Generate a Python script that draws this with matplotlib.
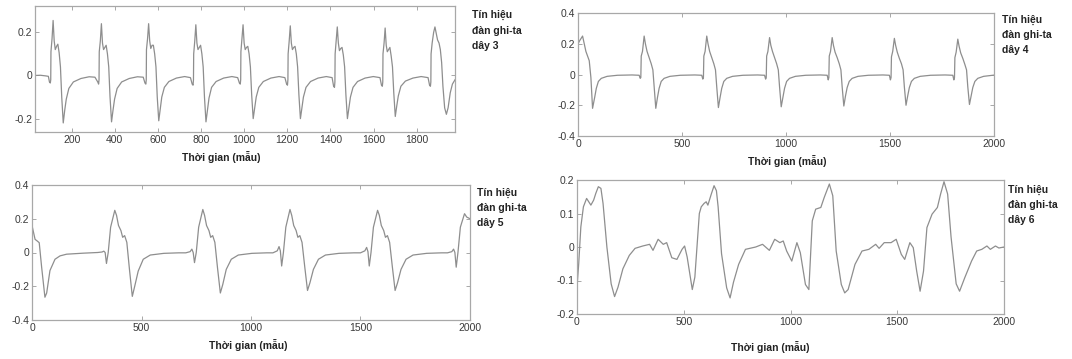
import matplotlib
matplotlib.use("Agg")
import matplotlib.pyplot as plt

plt.rcParams['font.family'] = ['Liberation Sans', 'DejaVu Sans']

W, H = 1072, 359

# --- signal "dây 3" (top left) ---
day3_t = [30, 55, 80, 92,
          97, 101, 103, 104, 109, 114, 119, 124, 130, 136, 142, 148, 154, 161, 168, 175, 187, 208, 243, 281, 308,
          321, 325, 327, 328, 333, 338, 343, 348, 354, 360, 366, 372, 378, 385, 392, 399, 411, 432, 467, 505, 532,
          540, 544, 546, 547, 552, 557, 562, 567, 573, 579, 585, 591, 597, 604, 611, 618, 630, 651, 686, 724, 751,
          759, 763, 765, 766, 771, 776, 781, 786, 792, 798, 804, 810, 816, 823, 830, 837, 849, 870, 905, 943, 970,
          978, 982, 984, 985, 990, 995, 1000, 1005, 1011, 1017, 1023, 1029, 1035, 1042, 1049, 1056, 1068, 1089, 1124, 1162, 1189,
          1197, 1201, 1203, 1204, 1209, 1214, 1219, 1224, 1230, 1236, 1242, 1248, 1254, 1261, 1268, 1275, 1287, 1308, 1343, 1381, 1408,
          1415, 1419, 1421, 1422, 1427, 1432, 1437, 1442, 1448, 1454, 1460, 1466, 1472, 1479, 1486, 1493, 1505, 1526, 1561, 1599, 1630,
          1637, 1641, 1643, 1644, 1649, 1654, 1659, 1664, 1670, 1676, 1682, 1688, 1694, 1701, 1708, 1715, 1727, 1748, 1783, 1821, 1853,
          1860, 1864, 1866, 1867, 1872, 1879, 1885, 1890, 1897, 1904, 1910, 1916, 1922, 1930, 1938, 1946, 1956, 1966, 1978]
day3_v = [0.0, 0.001, -0.002, -0.004,
          -0.03, -0.035, -0.02, 0.11, 0.17, 0.255, 0.16, 0.12, 0.135, 0.145, 0.105, 0.04, -0.1, -0.22, -0.16, -0.11, -0.06, -0.03, -0.014, -0.006, -0.008,
          -0.03, -0.04, -0.02, 0.11, 0.16, 0.24, 0.15, 0.12, 0.13, 0.14, 0.1, 0.04, -0.1, -0.215, -0.16, -0.11, -0.06, -0.03, -0.014, -0.006, -0.008,
          -0.035, -0.04, -0.02, 0.12, 0.17, 0.24, 0.16, 0.125, 0.14, 0.14, 0.1, 0.04, -0.1, -0.21, -0.155, -0.1, -0.055, -0.028, -0.012, -0.005, -0.01,
          -0.04, -0.045, -0.02, 0.1, 0.16, 0.235, 0.15, 0.12, 0.13, 0.14, 0.1, 0.04, -0.1, -0.215, -0.16, -0.105, -0.055, -0.028, -0.012, -0.005, -0.01,
          -0.035, -0.04, -0.02, 0.11, 0.17, 0.235, 0.15, 0.12, 0.13, 0.135, 0.1, 0.04, -0.09, -0.2, -0.15, -0.1, -0.055, -0.028, -0.012, -0.005, -0.01,
          -0.04, -0.045, -0.02, 0.1, 0.16, 0.23, 0.15, 0.12, 0.13, 0.135, 0.1, 0.04, -0.09, -0.2, -0.15, -0.1, -0.055, -0.028, -0.012, -0.005, -0.01,
          -0.05, -0.055, -0.03, 0.1, 0.16, 0.225, 0.15, 0.115, 0.125, 0.13, 0.095, 0.04, -0.09, -0.2, -0.15, -0.1, -0.055, -0.028, -0.012, -0.005, -0.01,
          -0.045, -0.05, -0.03, 0.1, 0.15, 0.22, 0.14, 0.11, 0.12, 0.13, 0.09, 0.04, -0.08, -0.19, -0.14, -0.095, -0.05, -0.026, -0.012, -0.005, -0.01,
          -0.045, -0.05, -0.03, 0.1, 0.15, 0.2, 0.225, 0.2, 0.165, 0.15, 0.12, 0.06, -0.05, -0.15, -0.18, -0.15, -0.08, -0.04, -0.02]

# --- signal "dây 4" (top right) ---
day4_t = [0, 8, 22, 30, 38, 46, 54, 62, 70, 80, 88, 98, 112, 140, 190, 260,
          294, 299, 302, 304, 310, 318, 324, 332, 342, 352, 360, 366, 374, 382, 390, 400, 414, 442, 492, 562,
          595, 600, 603, 605, 611, 619, 625, 633, 643, 653, 661, 667, 675, 683, 691, 701, 715, 743, 793, 863,
          897, 902, 905, 907, 913, 921, 927, 935, 945, 955, 963, 969, 977, 985, 993, 1003, 1017, 1045, 1095, 1165,
          1198, 1203, 1206, 1208, 1214, 1222, 1228, 1236, 1246, 1256, 1264, 1270, 1278, 1286, 1294, 1304, 1318, 1346, 1396, 1466,
          1497, 1502, 1505, 1507, 1513, 1521, 1527, 1535, 1545, 1555, 1563, 1569, 1577, 1585, 1593, 1603, 1617, 1645, 1695, 1765,
          1802, 1807, 1810, 1812, 1818, 1826, 1832, 1840, 1850, 1860, 1868, 1874, 1882, 1890, 1898, 1908, 1922, 1950, 2000]
day4_v = [0.2, 0.22, 0.25, 0.2, 0.15, 0.12, 0.09, -0.02, -0.22, -0.15, -0.09, -0.045, -0.025, -0.012, -0.005, -0.003,
          -0.005, -0.025, -0.02, 0.12, 0.15, 0.25, 0.2, 0.15, 0.11, 0.07, 0.03, -0.08, -0.22, -0.15, -0.09, -0.045, -0.025, -0.012, -0.005, -0.003,
          -0.005, -0.03, -0.02, 0.12, 0.15, 0.25, 0.2, 0.15, 0.11, 0.07, 0.03, -0.08, -0.215, -0.15, -0.09, -0.045, -0.025, -0.012, -0.005, -0.003,
          -0.005, -0.03, -0.02, 0.12, 0.15, 0.24, 0.19, 0.15, 0.11, 0.07, 0.03, -0.08, -0.21, -0.15, -0.09, -0.045, -0.025, -0.012, -0.005, -0.003,
          -0.005, -0.035, -0.02, 0.12, 0.15, 0.24, 0.19, 0.145, 0.11, 0.07, 0.03, -0.08, -0.205, -0.14, -0.085, -0.045, -0.025, -0.012, -0.005, -0.003,
          -0.005, -0.035, -0.02, 0.115, 0.15, 0.235, 0.19, 0.145, 0.105, 0.07, 0.03, -0.08, -0.2, -0.14, -0.085, -0.045, -0.025, -0.012, -0.005, -0.003,
          -0.005, -0.035, -0.02, 0.11, 0.145, 0.23, 0.185, 0.14, 0.105, 0.065, 0.03, -0.08, -0.195, -0.14, -0.085, -0.045, -0.025, -0.012, -0.004]

# --- signal "dây 5" (bottom left) ---
day5_t = [0, 14, 24, 33, 44, 59, 67, 82, 105, 128, 158, 234,
          300, 320, 328, 334, 340, 348, 359, 378, 386, 395, 406, 414, 423, 433, 445, 458, 469, 485, 508, 540, 602, 670,
          702, 722, 730, 736, 742, 750, 761, 780, 788, 797, 808, 816, 825, 835, 847, 860, 871, 887, 910, 942, 1004, 1072,
          1100, 1120, 1128, 1134, 1140, 1148, 1159, 1178, 1186, 1195, 1206, 1214, 1223, 1233, 1245, 1258, 1269, 1285, 1308, 1340, 1402, 1470,
          1500, 1520, 1528, 1534, 1540, 1548, 1559, 1578, 1586, 1595, 1606, 1614, 1623, 1633, 1645, 1658, 1669, 1685, 1708, 1740, 1802, 1870,
          1897, 1917, 1925, 1931, 1937, 1945, 1956, 1975, 1985, 2000]
day5_v = [0.16, 0.078, 0.068, 0.058, -0.087, -0.265, -0.24, -0.107, -0.04, -0.02, -0.01, -0.004,
          0.0, 0.003, 0.008, 0.0, -0.065, 0.0, 0.15, 0.25, 0.22, 0.16, 0.13, 0.09, 0.1, 0.06, -0.1, -0.26, -0.2, -0.11, -0.04, -0.015, -0.005, -0.002,
          -0.002, 0.005, 0.02, 0.0, -0.06, 0.0, 0.15, 0.255, 0.22, 0.16, 0.13, 0.09, 0.1, 0.06, -0.09, -0.24, -0.19, -0.1, -0.04, -0.015, -0.005, -0.002,
          -0.002, 0.01, 0.035, 0.01, -0.08, 0.0, 0.15, 0.255, 0.22, 0.16, 0.13, 0.09, 0.1, 0.06, -0.08, -0.225, -0.18, -0.1, -0.04, -0.015, -0.005, -0.002,
          -0.002, 0.01, 0.03, 0.005, -0.08, 0.0, 0.15, 0.25, 0.22, 0.16, 0.13, 0.09, 0.1, 0.06, -0.08, -0.225, -0.18, -0.1, -0.04, -0.015, -0.005, -0.002,
          -0.002, 0.005, 0.02, 0.0, -0.087, 0.0, 0.15, 0.23, 0.21, 0.2]

# --- signal "dây 6" (bottom right) ---
day6_t = [0, 8, 18, 30, 45, 55, 65, 78, 88, 100, 112, 122, 140, 160, 176, 192, 215, 245, 272,
          308, 340, 356, 380, 404, 420, 444, 468, 492, 504, 516, 540, 552, 573, 582, 595, 605, 613, 629, 642, 653, 661,
          677, 701, 717, 733, 757, 789, 837, 869, 901, 926, 950, 966, 982, 1006, 1030, 1046, 1070, 1086,
          1102, 1118, 1142, 1158, 1182, 1198, 1214, 1238, 1254, 1270, 1302, 1335, 1367, 1399, 1415, 1439, 1471,
          1495, 1519, 1535, 1559, 1575, 1591, 1607, 1623, 1639, 1663, 1688, 1703, 1719, 1736, 1752, 1776, 1792,
          1816, 1848, 1872, 1896, 1920, 1936, 1960, 1976, 2000]
day6_v = [-0.12, -0.05, 0.06, 0.12, 0.145, 0.135, 0.125, 0.14, 0.16, 0.18, 0.175, 0.13, 0.0, -0.11, -0.148, -0.12, -0.065, -0.025, -0.004,
          0.003, 0.008, -0.01, 0.023, 0.008, 0.013, -0.032, -0.037, -0.007, 0.003, -0.03, -0.127, -0.09, 0.1, 0.12, 0.13, 0.135, 0.125, 0.158, 0.183, 0.168, 0.12,
          -0.02, -0.122, -0.152, -0.105, -0.052, -0.007, 0.0, 0.008, -0.01, 0.023, 0.013, 0.018, -0.012, -0.042, 0.013, -0.017, -0.112, -0.127,
          0.078, 0.113, 0.118, 0.148, 0.188, 0.153, -0.012, -0.112, -0.137, -0.127, -0.052, -0.012, -0.007, 0.008, -0.004, 0.013, 0.013,
          0.023, -0.022, -0.037, 0.013, -0.002, -0.072, -0.132, -0.072, 0.058, 0.098, 0.118, 0.158, 0.195, 0.158, 0.03, -0.11, -0.132,
          -0.092, -0.042, -0.012, -0.007, 0.003, -0.007, 0.003, -0.003, 0.0]

x_label = "Thời gian (mẫu)"
side_label = ["Tín hiệu", "đàn ghi-ta", "dây {}"]

LINE = '#8e8e8e'
FRAME = '#a8a8a8'
TXT = '#3a3a3a'


def place_axes(fig, x0, y0, x1, y1):
    """add axes from pixel box (top-left origin)"""
    return fig.add_axes([x0 / W, 1 - y1 / H, (x1 - x0) / W, (y1 - y0) / H])


def draw_panel(ax, t, v, xlim, ylim, xticks, yticks):
    ax.plot(t, v, color=LINE, linewidth=0.9)
    ax.set_xlim(*xlim)
    ax.set_ylim(*ylim)
    ax.set_xticks(xticks)
    ax.set_xticklabels([f"{x:g}" for x in xticks])
    ax.set_yticks(yticks)
    ax.set_yticklabels([f"{y:g}" for y in yticks])
    ax.tick_params(direction='in', length=3, width=0.7, colors=FRAME,
                   labelcolor=TXT, labelsize=7.5, top=True, right=True, pad=2)
    for s in ax.spines.values():
        s.set_color(FRAME)
        s.set_linewidth(0.9)


def side_text(fig, x, ys, num):
    for y, line in zip(ys, side_label):
        fig.text(x / W, 1 - y / H, line.format(num), ha='left', va='center',
                 fontsize=7.5, fontweight='bold', color='#222222')


fig = plt.figure(figsize=(W / 100, H / 100), dpi=100)

ax1 = place_axes(fig, 35, 6, 455, 132)
draw_panel(ax1, day3_t, day3_v, (30, 1978), (-0.262, 0.322),
           [200, 400, 600, 800, 1000, 1200, 1400, 1600, 1800], [-0.2, 0, 0.2])

ax2 = place_axes(fig, 578, 13, 994, 136)
draw_panel(ax2, day4_t, day4_v, (0, 2000), (-0.4, 0.4),
           [0, 500, 1000, 1500, 2000], [-0.4, -0.2, 0, 0.2, 0.4])

ax3 = place_axes(fig, 32, 185, 470, 320)
draw_panel(ax3, day5_t, day5_v, (0, 2000), (-0.4, 0.4),
           [0, 500, 1000, 1500, 2000], [-0.4, -0.2, 0, 0.2, 0.4])

ax4 = place_axes(fig, 577, 180, 1004, 314)
draw_panel(ax4, day6_t, day6_v, (0, 2000), (-0.2, 0.2),
           [0, 500, 1000, 1500, 2000], [-0.2, -0.1, 0, 0.1, 0.2])

# x labels
for cx, cy in [(221, 157), (787, 161), (248, 345), (770, 347)]:
    fig.text(cx / W, 1 - cy / H, x_label, ha='center', va='center',
             fontsize=7.5, fontweight='bold', color='#222222')

# side labels
side_text(fig, 472, [15, 31, 46], 3)
side_text(fig, 1002, [20, 35, 50], 4)
side_text(fig, 477, [193, 208, 223], 5)
side_text(fig, 1008, [190, 205, 220], 6)

fig.savefig("out.png", dpi=100)
